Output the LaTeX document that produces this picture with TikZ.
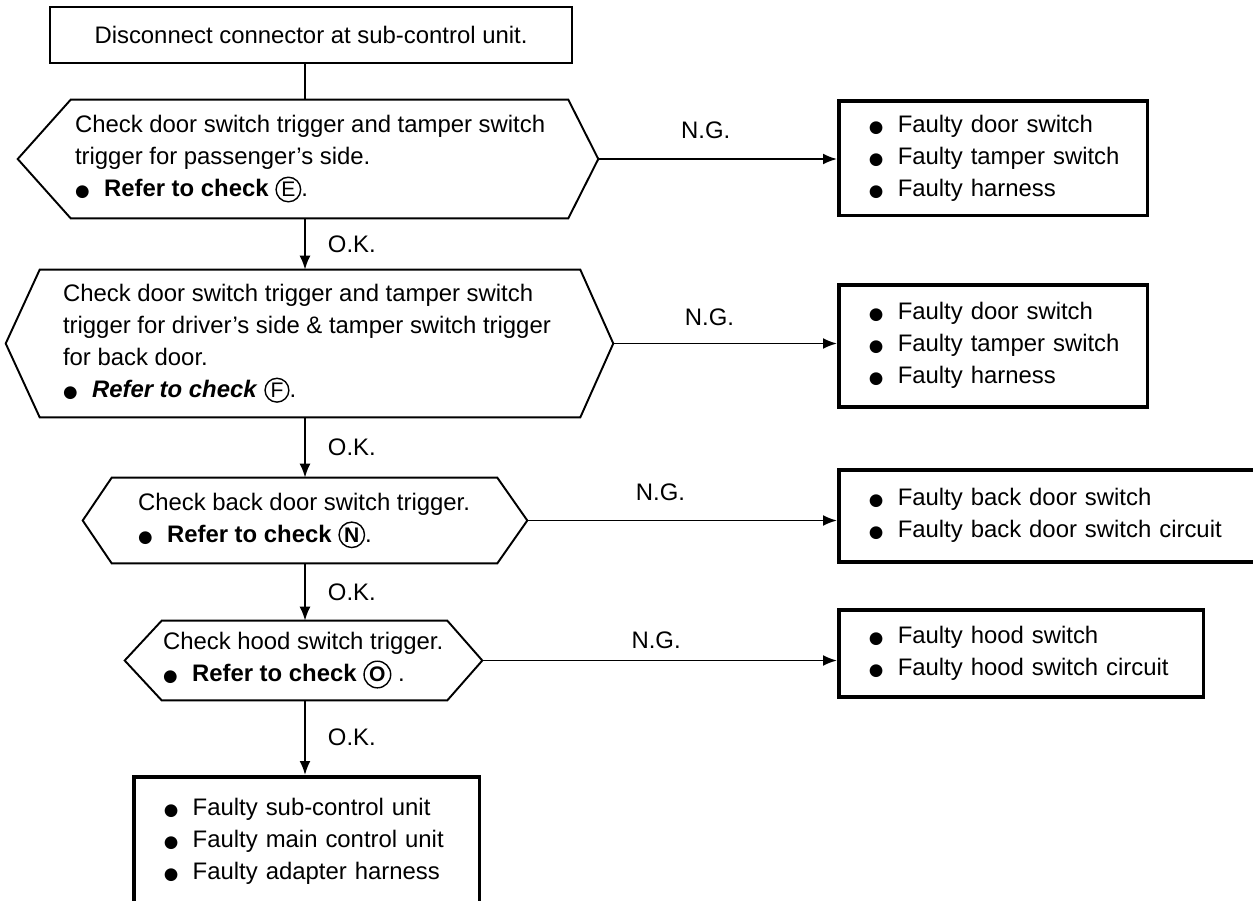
\documentclass[tikz,border=0pt]{standalone}
\usepackage{fontspec}
\setmainfont{Liberation Sans}
\newfontfamily\dejavu{DejaVu Sans}
\usetikzlibrary{arrows.meta,positioning}

% bullet from DejaVu, check letters drawn in a ring
\newcommand{\blt}{\makebox[0.58cm][l]{\dejavu\fontsize{9.5}{9.5}\selectfont ●}}
\newcommand{\faultline}[1]{\mbox{\blt #1}}
\newcommand{\chkref}[1]{\tikz[baseline=(ring.base)]
    \node[draw, circle, inner sep=0.9pt, line width=0.8pt, font=\fontsize{12}{12}\selectfont] (ring) {#1};}

\begin{document}
\begin{tikzpicture}[x=0.02cm, y=-0.02cm,
        every node/.style={font=\fontsize{13.6}{18.2}\selectfont, inner sep=0pt},
        line/.style={line width=1.1pt},
        flow/.style={line, -{Latex[length=0.28cm,width=0.22cm]}},
        hexline/.style={line, line join=miter},
        checktext/.style={anchor=west, align=left},
        faultbox/.style={draw, line width=2pt, anchor=north west, align=left, inner xsep=0.6cm}]

        \useasboundingbox (0,0) rectangle (1253,900);
        \fill[white] (0,0) rectangle (1253,900);
        \coordinate (spine) at (305,0);

        % start
        \node[draw, line, minimum width=10.44cm, minimum height=1.12cm] (start) at (311,35)
            {Disconnect connector at sub-control unit.};

        % bodies of the check hexagons
        \node[minimum width=9.94cm, minimum height=2.36cm] (chk1) at (319.5,159) {};
        \node[minimum width=10.8cm, minimum height=2.94cm] (chk2) at (310,343.5) {};
        \node[minimum width=7.7cm, minimum height=1.7cm] (chk3) at (304.5,520.5) {};
        \node[minimum width=5.7cm, minimum height=1.58cm] (chk4) at (304.5,660.5) {};

        \foreach \n/\l/\r in {chk1/1.06/0.6, chk2/0.68/0.66, chk3/0.58/0.6, chk4/0.74/0.7}
            \draw[hexline] (\n.north west) -- (\n.north east)
                -- ([xshift=\r cm]\n.east) coordinate (\n tip)
                -- (\n.south east) -- (\n.south west)
                -- ([xshift=-\l cm]\n.west) -- cycle;

        \node[checktext, right=0.08cm of chk1.west] (chk1txt)
            {Check door switch trigger and tamper switch\\
             trigger for passenger’s side.\\
             \blt\textbf{Refer to check} \chkref{E}.};
        \node[checktext, right=0.46cm of chk2.west] (chk2txt)
            {Check door switch trigger and tamper switch\\
             trigger for driver’s side \& tamper switch trigger\\
             for back door.\\
             \blt\textbf{\textit{Refer to check}} \chkref{F}.};
        \node[checktext, right=0.52cm of chk3.west] (chk3txt)
            {Check back door switch trigger.\\
             \blt\textbf{Refer to check} \chkref{\textbf{N}}.};
        \node[checktext, right=0.02cm of chk4.west] (chk4txt)
            {Check hood switch trigger.\\
             \blt\textbf{Refer to check} \chkref{\textbf{O}} .};

        % results
        \node[faultbox, text width=4.98cm, minimum height=2.3cm] (ng1) at (837,99)
            {\faultline{Faulty door switch}\\ \faultline{Faulty tamper switch}\\ \faultline{Faulty harness}};
        \node[faultbox, text width=4.98cm, minimum height=2.44cm] (ng2) at (837,283)
            {\faultline{Faulty door switch}\\ \faultline{Faulty tamper switch}\\ \faultline{Faulty harness}};
        \node[faultbox, text width=7.36cm, minimum height=1.84cm] (ng3) at (837,468)
            {\faultline{Faulty back door switch}\\ \faultline{Faulty back door switch circuit}};
        \node[faultbox, text width=6.1cm, minimum height=1.74cm] (ng4) at (837,608)
            {\faultline{Faulty hood switch}\\ \faultline{Faulty hood switch circuit}};
        \node[faultbox, text width=5.72cm, minimum height=2.6cm] (units) at (132,775)
            {\faultline{Faulty sub-control unit}\\ \faultline{Faulty main control unit}\\ \faultline{Faulty adapter harness}};

        % O.K. path
        \draw[line] (start.south -| spine) -- (chk1.north -| spine);
        \draw[flow] (chk1.south -| spine) -- (chk2.north -| spine) node[midway, right=0.44cm] {O.K.};
        \draw[flow] (chk2.south -| spine) -- (chk3.north -| spine) node[midway, right=0.44cm] {O.K.};
        \draw[flow] (chk3.south -| spine) -- (chk4.north -| spine) node[midway, right=0.44cm] {O.K.};
        \draw[flow] (chk4.south -| spine) -- (units.north -| spine) node[midway, right=0.44cm] {O.K.};

        % N.G. branches
        \draw[flow] (chk1tip) -- (chk1tip -| ng1.west) node[pos=0.45, above=0.39cm] {N.G.};
        \draw[flow] (chk2tip) -- (chk2tip -| ng2.west) node[pos=0.43, above=0.33cm] {N.G.};
        \draw[flow] (chk3tip) -- (chk3tip -| ng3.west) node[pos=0.43, above=0.37cm] {N.G.};
        \draw[flow] (chk4tip) -- (chk4tip -| ng4.west) node[pos=0.49, above=0.21cm] {N.G.};

\end{tikzpicture}
\end{document}
